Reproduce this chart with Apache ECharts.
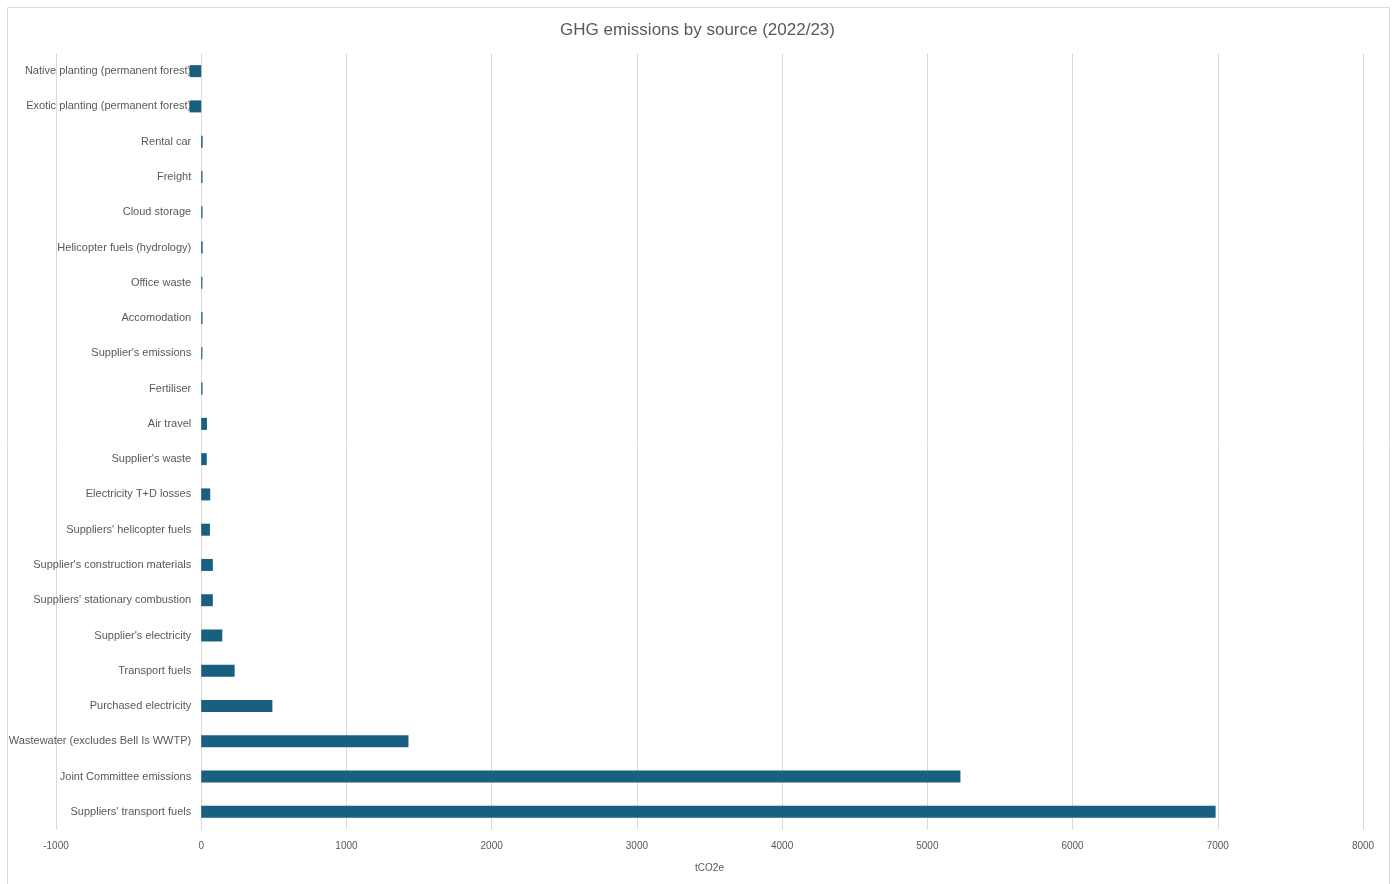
<!DOCTYPE html>
<html>
<head>
<meta charset="utf-8">
<title>GHG emissions by source (2022/23)</title>
<script src="https://cdn.jsdelivr.net/npm/echarts@6/dist/echarts.min.js"></script>
<style>
  html, body { margin: 0; padding: 0; background: #fff; }
  #chartBar { width: 1395px; height: 884px; }
</style>
</head>
<body>
<div id="chartBar"></div>
<script>
// categories listed bottom to top, as the category axis draws them
const sources = [
  "Suppliers' transport fuels",
  'Joint Committee emissions',
  'Wastewater (excludes Bell Is WWTP)',
  'Purchased electricity',
  'Transport fuels',
  "Supplier's electricity",
  "Suppliers' stationary combustion",
  "Supplier's construction materials",
  "Suppliers' helicopter fuels",
  'Electricity T+D losses',
  "Supplier's waste",
  'Air travel',
  'Fertiliser',
  "Supplier's emissions",
  'Accomodation',
  'Office waste',
  'Helicopter fuels (hydrology)',
  'Cloud storage',
  'Freight',
  'Rental car',
  'Exotic planting (permanent forest)',
  'Native planting (permanent forest)'
]
const emissions = [
  6985, 5228, 1427, 490, 230, 145, 80, 80, 60, 62, 38, 40,
  9, 8, 9, 8, 10, 9, 9, 10, -80, -80
]
const xTicks = { min: -1000, max: 8000, step: 1000 }

const chartBar = echarts.init(document.getElementById('chartBar'))
const textColor = '#595959'
const lineColor = '#d9d9d9'
const gridLeft = 56

chartBar.setOption({
  animation: false,
  textStyle: { fontFamily: 'Liberation Sans' },
  title: {
    text: 'GHG emissions by source (2022/23)',
    left: 'center',
    top: 17,
    textStyle: { color: textColor, fontSize: 17, fontWeight: 'normal', fontFamily: 'Liberation Sans' }
  },
  graphic: [{
    type: 'rect',
    shape: { x: 7.5, y: 7.5, width: 1382, height: 890 },
    style: { fill: 'none', stroke: lineColor, lineWidth: 1 },
    silent: true
  }],
  grid: { left: gridLeft, right: 32, top: 53.5, bottom: 54.5, containLabel: false, outerBoundsMode: 'none' },
  xAxis: {
    type: 'value',
    min: xTicks.min,
    max: xTicks.max,
    interval: xTicks.step,
    name: 'tCO2e',
    nameLocation: 'middle',
    nameGap: 34,
    nameTextStyle: { color: textColor, fontSize: 10 },
    axisLine: { show: false },
    axisTick: { show: false },
    axisLabel: { color: textColor, fontSize: 10, margin: 12, formatter: (v) => String(v) },
    splitLine: { show: true, lineStyle: { color: lineColor, width: 1 } }
  },
  yAxis: {
    type: 'category',
    data: sources,
    axisLine: { show: true, onZero: false, lineStyle: { color: lineColor, width: 1 } },
    axisTick: { show: false },
    axisLabel: { color: textColor, fontSize: 11, margin: 10, interval: 0 },
    splitLine: { show: false }
  },
  series: [{
    name: 'tCO2e',
    type: 'bar',
    data: emissions,
    barWidth: '34%',
    itemStyle: { color: '#195f80' },
    z: 3
  }]
})

// move the category axis (line + labels) onto x = 0, like the original
const zeroX = chartBar.convertToPixel({ xAxisIndex: 0 }, 0)
chartBar.setOption({ yAxis: { offset: -(zeroX - gridLeft) } })
</script>
</body>
</html>
